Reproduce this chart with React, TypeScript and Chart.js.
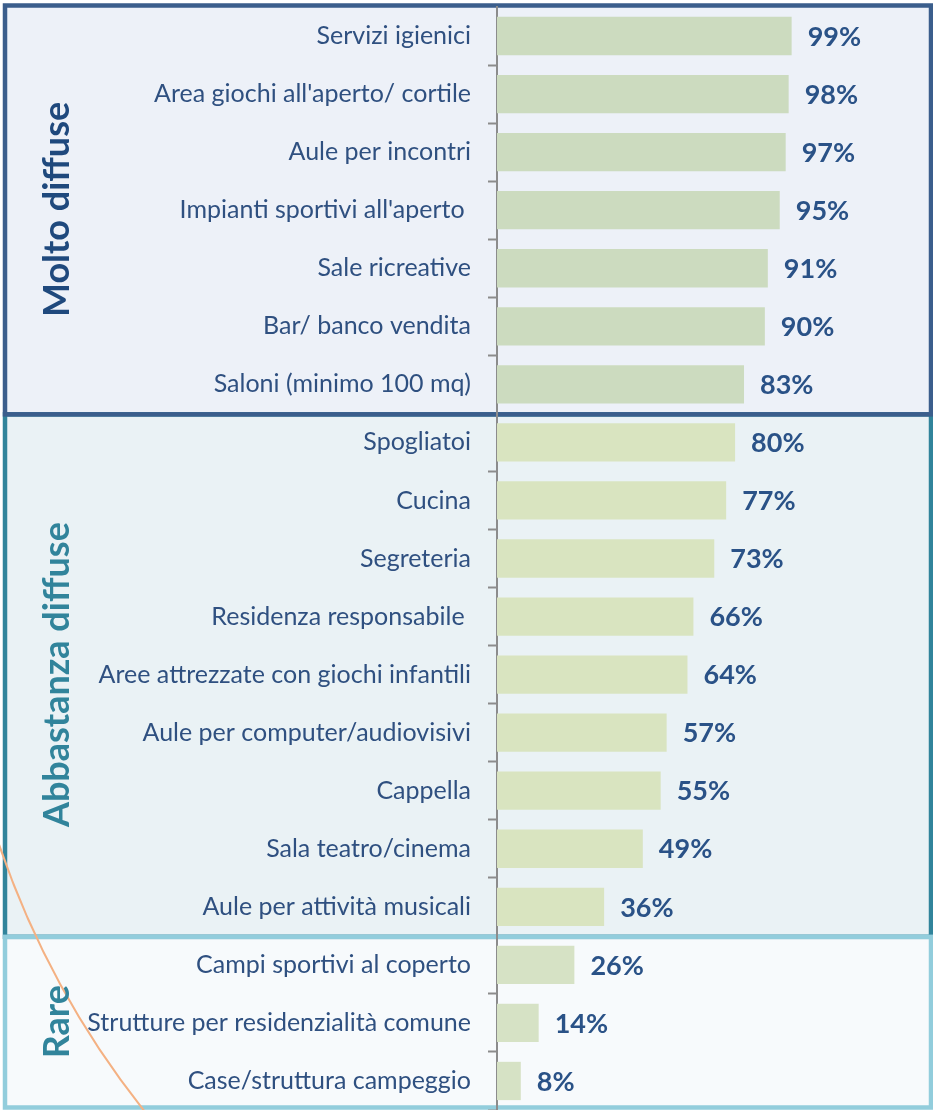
import React, { useEffect, useRef } from 'react';
import { Chart, registerables } from 'chart.js';

Chart.register(...registerables);

const categories = [
  'Servizi igienici',
  "Area giochi all'aperto/ cortile",
  'Aule per incontri',
  "Impianti sportivi all'aperto ",
  'Sale ricreative',
  'Bar/ banco vendita',
  'Saloni (minimo 100 mq)',
  'Spogliatoi',
  'Cucina',
  'Segreteria',
  'Residenza responsabile ',
  'Aree attrezzate con giochi infantili',
  'Aule per computer/audiovisivi',
  'Cappella',
  'Sala teatro/cinema',
  'Aule per attività musicali',
  'Campi sportivi al coperto',
  'Strutture per residenzialità comune',
  'Case/struttura campeggio',
];

const values = [99, 98, 97, 95, 91, 90, 83, 80, 77, 73, 66, 64, 57, 55, 49, 36, 26, 14, 8];

const groupNames = ['Molto diffuse', 'Abbastanza diffuse', 'Rare'];
const groupSizes = [7, 9, 3];
const groupBarColors = ['#CCDBBF', '#D9E4C0', '#D6E2C5'];
const groupBg = ['#EDF1F8', '#EAF2F5', '#F7FAFC'];
const groupBorder = ['#3B5E8C', '#31849B', '#92CDDC'];
const groupTitleColor = ['#1F497D', '#31849B', '#31849B'];

const groupOf = (i: number) => {
  let acc = 0;
  for (let g = 0; g < groupSizes.length; g++) {
    acc += groupSizes[g];
    if (i < acc) return g;
  }
  return groupSizes.length - 1;
};

const barColors = categories.map((_, i) => groupBarColors[groupOf(i)]);

const boxesPlugin = {
  id: 'boxes',
  beforeDraw(chart: any) {
    const ctx = chart.ctx;
    const y = chart.scales.y;
    const W = chart.width;
    const H = chart.height;
    const rects: { top: number; bottom: number }[] = [];
    let start = 0;
    groupSizes.forEach((size, g) => {
      const top = g === 0 ? 5.5 : y.getPixelForValue(start - 0.5) + 1;
      const bottom = g === groupSizes.length - 1 ? H - 2.5 : y.getPixelForValue(start + size - 0.5) + 1;
      rects.push({ top, bottom });
      start += size;
    });
    ctx.save();
    rects.forEach((r, g) => {
      ctx.fillStyle = groupBg[g];
      ctx.fillRect(5, r.top, W - 7, r.bottom - r.top);
    });
    [1, 0, 2].forEach((g) => {
      const r = rects[g];
      ctx.strokeStyle = groupBorder[g];
      ctx.lineWidth = 4.5;
      ctx.strokeRect(5, r.top, W - 7, r.bottom - r.top);
    });
    // decorative orange arc
    ctx.beginPath();
    ctx.strokeStyle = '#F4B183';
    ctx.lineWidth = 2;
    ctx.arc(840.7, 558.4, 889, 2.45, 2.83, false);
    ctx.stroke();
    ctx.restore();
  },
  afterDraw(chart: any) {
    const ctx = chart.ctx;
    const y = chart.scales.y;
    const H = chart.height;
    let start = 0;
    ctx.save();
    groupSizes.forEach((size, g) => {
      const top = g === 0 ? 5.5 : y.getPixelForValue(start - 0.5);
      const bottom = g === groupSizes.length - 1 ? H - 2.5 : y.getPixelForValue(start + size - 0.5);
      const cy = (top + bottom) / 2;
      ctx.save();
      ctx.translate(57, cy);
      ctx.rotate(-Math.PI / 2);
      ctx.fillStyle = groupTitleColor[g];
      ctx.font = 'bold 36px Lato';
      ctx.textAlign = 'center';
      ctx.textBaseline = 'middle';
      ctx.fillText(groupNames[g], 0, 0);
      ctx.restore();
      start += size;
    });
    ctx.restore();
  },
};

const valueLabelsPlugin = {
  id: 'valueLabels',
  afterDatasetsDraw(chart: any) {
    const ctx = chart.ctx;
    const meta = chart.getDatasetMeta(0);
    ctx.save();
    ctx.fillStyle = '#2A5287';
    ctx.font = 'bold 27px Lato';
    ctx.textAlign = 'left';
    ctx.textBaseline = 'middle';
    meta.data.forEach((bar: any, i: number) => {
      ctx.fillText(values[i] + '%', bar.x + 16, bar.y + 1);
    });
    ctx.restore();
  },
};

export default function App() {
  const ref = useRef<HTMLCanvasElement>(null);
  useEffect(() => {
    if (!ref.current) return;
    const hidden = new Set([0, 7, 16, categories.length]);
    const chart = new Chart(ref.current, {
      type: 'bar',
      data: {
        labels: categories,
        datasets: [
          {
            data: values,
            backgroundColor: barColors,
            borderWidth: 0,
            barPercentage: 0.66,
            categoryPercentage: 1,
          },
        ],
      },
      options: {
        indexAxis: 'y',
        responsive: false,
        animation: false,
        layout: { padding: { top: 7, bottom: 0, left: 0, right: 0 } },
        plugins: { legend: { display: false }, tooltip: { enabled: false } },
        scales: {
          x: { display: false, min: 0, max: 146.5 },
          y: {
            afterFit: (s: any) => {
              s.width = 497;
              s.paddingTop = 0;
              s.paddingBottom = 0;
            },
            grid: {
              drawOnChartArea: false,
              drawTicks: true,
              tickLength: 9,
              tickWidth: 2,
              offset: true,
              tickColor: (c: any) => (hidden.has(c.index) ? 'rgba(0,0,0,0)' : '#8C8C8C'),
            },
            border: { display: true, color: '#8C8C8C', width: 2 },
            ticks: {
              color: '#2F5080',
              font: { family: 'Lato', size: 25 },
              padding: 17,
              autoSkip: false,
            },
          },
        },
      },
      plugins: [boxesPlugin, valueLabelsPlugin],
    });
    return () => chart.destroy();
  }, []);
  return (
    <div style={{ position: 'absolute', left: 0, top: 0, width: 933, height: 1110 }}>
      <canvas ref={ref} width={933} height={1110} style={{ width: 933, height: 1110, display: 'block' }} />
    </div>
  );
}
